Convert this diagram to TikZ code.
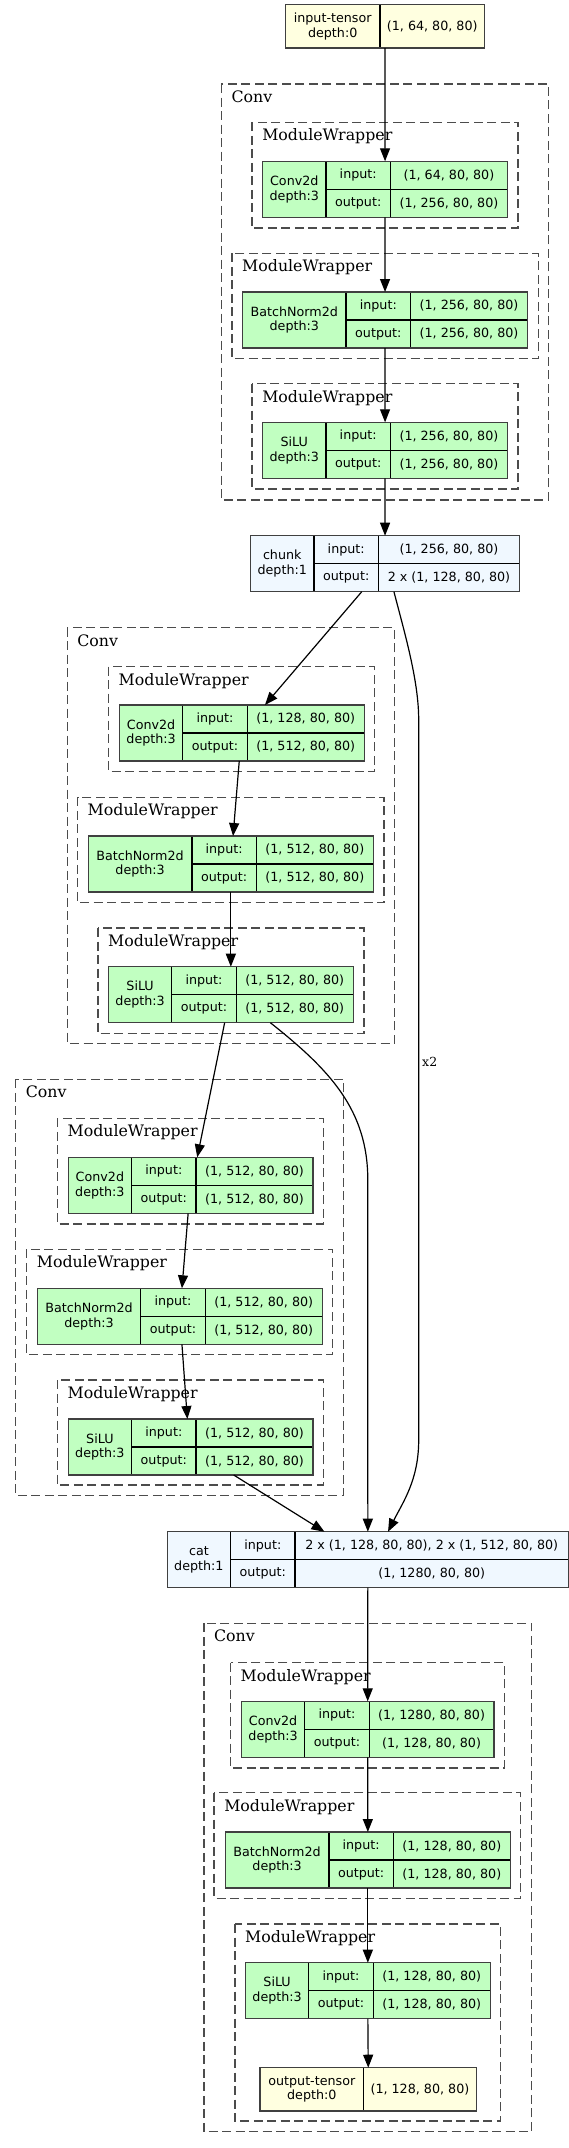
\documentclass[tikz,border=0pt]{standalone}
\usepackage{fontspec}
\setmainfont{DejaVu Serif}
\newfontfamily\boxfont{DejaVu Sans}
\usetikzlibrary{arrows.meta}

\definecolor{modgreen}{HTML}{C1FFC1}
\definecolor{funcblue}{HTML}{F0F8FF}
\definecolor{tensoryellow}{HTML}{FFFFE0}

% #1 name, #2 fill, #3 left, #4 top, #5 name width, #6 value width, #7 title, #8 input, #9 output
\newcommand{\layerbox}[9]{%
  \node[namecell, fill=#2, minimum width=#5, anchor=north west] (#1n) at (#3,#4) {#7};
  \node[iocell, fill=#2, anchor=north west] (#1i) at (#1n.north east) {input:};
  \node[iocell, fill=#2, anchor=north west] (#1o) at (#1i.south west) {output:};
  \node[valcell, fill=#2, minimum width=#6, anchor=north west] (#1vi) at (#1i.north east) {#8};
  \node[valcell, fill=#2, minimum width=#6, anchor=north west] (#1vo) at (#1vi.south west) {#9};
  \node[boxframe, minimum width=#5+64.6+#6, minimum height=56, anchor=north west] (#1) at (#3,#4) {};
}
% #1 name, #2 left, #3 top, #4 name width, #5 value width, #6 title, #7 shape
\newcommand{\tensorbox}[7]{%
  \node[tcell, minimum width=#4, anchor=north west] (#1n) at (#2,#3) {#6};
  \node[tcell, minimum width=#5, anchor=north west] (#1v) at (#1n.north east) {#7};
  \node[boxframe, minimum width=#4+#5, minimum height=43.3, anchor=north west] (#1) at (#2,#3) {};
}
% #1 name, #2 left, #3 top, #4 right, #5 bottom, #6 label
\newcommand{\wrapper}[6]{%
  \draw[wrapline] (#2,#3) rectangle (#4,#5);
  \node[wraplabel] (#1) at (#2+10,#3+18.5) {#6};
}

\begin{document}
\begin{tikzpicture}[x=1pt, y=-1pt,
    cell/.style={draw=black, line width=1.4pt, inner sep=0pt, outer sep=0pt,
      font=\boxfont\fontsize{12.7}{14.6}\selectfont},
    namecell/.style={cell, minimum height=56, align=center},
    iocell/.style={cell, minimum width=64.6, minimum height=28},
    valcell/.style={cell, minimum height=28},
    tcell/.style={cell, fill=tensoryellow, minimum height=43.3, align=center},
    boxframe/.style={draw=black!75, line width=1.3pt, inner sep=0pt, outer sep=0pt},
    wrapline/.style={draw=black!70, line width=1.3pt, dash pattern=on 9pt off 4.5pt},
    wraplabel/.style={anchor=base west, inner sep=0pt, font=\fontsize{15.8}{19}\selectfont},
    edgelabel/.style={anchor=base west, inner sep=0pt, font=\fontsize{12.5}{15}\selectfont},
    flow/.style={draw=black, line width=1.2pt, -{Triangle[length=13pt,width=10pt]}}]

    \fill[white] (0,0) rectangle (569,2148);
    \useasboundingbox (0,0) rectangle (569,2148);

    % First Conv
    \wrapper{conva}{221.4}{84}{548.8}{500}{Conv}
    \wrapper{mwa}{252.1}{122.3}{518.1}{228}{ModuleWrapper}
    \wrapper{mwb}{232}{253.3}{538.2}{358.3}{ModuleWrapper}
    \wrapper{mwc}{252.1}{383.7}{518.1}{489}{ModuleWrapper}

    % Second Conv
    \wrapper{convb}{67.2}{627.7}{394.6}{1043.3}{Conv}
    \wrapper{mwd}{108.5}{666.7}{374.5}{771.7}{ModuleWrapper}
    \wrapper{mwe}{77.5}{797.3}{384}{902.7}{ModuleWrapper}
    \wrapper{mwf}{97.9}{928}{363.9}{1033.3}{ModuleWrapper}

    % Third Conv
    \wrapper{convc}{15.7}{1079.3}{343.4}{1495.7}{Conv}
    \wrapper{mwg}{57.4}{1118.3}{323.3}{1224}{ModuleWrapper}
    \wrapper{mwh}{26.7}{1249.3}{332.8}{1354.7}{ModuleWrapper}
    \wrapper{mwi}{57.4}{1380}{323.3}{1485}{ModuleWrapper}

    % Fourth Conv
    \wrapper{convd}{203.9}{1623.3}{531.6}{2131.7}{Conv}
    \wrapper{mwj}{230.5}{1662.7}{504.6}{1768}{ModuleWrapper}
    \wrapper{mwk}{214.1}{1792.7}{520.6}{1898.3}{ModuleWrapper}
    \wrapper{mwl}{234.9}{1924}{500.5}{2121}{ModuleWrapper}

    % Tensors
    \tensorbox{intensor}{285.4}{4.7}{94.6}{104.5}{input-tensor\\depth:0}{(1, 64, 80, 80)}
    \tensorbox{outtensor}{260.1}{2067.7}{103.4}{112.9}{output-tensor\\depth:0}{(1, 128, 80, 80)}

    % Layers
    \layerbox{convaa}{modgreen}{262.7}{161.3}{63.2}{116.9}{Conv2d\\depth:3}{(1, 64, 80, 80)}{(1, 256, 80, 80)}
    \layerbox{bna}{modgreen}{242.6}{292}{103.4}{116.9}{BatchNorm2d\\depth:3}{(1, 256, 80, 80)}{(1, 256, 80, 80)}
    \layerbox{silua}{modgreen}{262.7}{422.3}{63.2}{116.9}{SiLU\\depth:3}{(1, 256, 80, 80)}{(1, 256, 80, 80)}
    \layerbox{chunk}{funcblue}{250.6}{535.7}{63.3}{141}{chunk\\depth:1}{(1, 256, 80, 80)}{2 x (1, 128, 80, 80)}

    \layerbox{convbb}{modgreen}{119.5}{705}{63.2}{116.9}{Conv2d\\depth:3}{(1, 128, 80, 80)}{(1, 512, 80, 80)}
    \layerbox{bnb}{modgreen}{88.4}{836}{103.4}{116.9}{BatchNorm2d\\depth:3}{(1, 512, 80, 80)}{(1, 512, 80, 80)}
    \layerbox{silub}{modgreen}{108.5}{966.7}{63.2}{116.9}{SiLU\\depth:3}{(1, 512, 80, 80)}{(1, 512, 80, 80)}

    \layerbox{convcc}{modgreen}{68.3}{1157.3}{63.2}{116.9}{Conv2d\\depth:3}{(1, 512, 80, 80)}{(1, 512, 80, 80)}
    \layerbox{bnc}{modgreen}{37.3}{1288.3}{103.4}{116.9}{BatchNorm2d\\depth:3}{(1, 512, 80, 80)}{(1, 512, 80, 80)}
    \layerbox{siluc}{modgreen}{68.3}{1419}{63.2}{116.9}{SiLU\\depth:3}{(1, 512, 80, 80)}{(1, 512, 80, 80)}

    \layerbox{cat}{funcblue}{167.3}{1531.7}{63.2}{273.3}{cat\\depth:1}{2 x (1, 128, 80, 80), 2 x (1, 512, 80, 80)}{(1, 1280, 80, 80)}

    \layerbox{convdd}{modgreen}{241.5}{1701.3}{63.2}{124.6}{Conv2d\\depth:3}{(1, 1280, 80, 80)}{(1, 128, 80, 80)}
    \layerbox{bnd}{modgreen}{225.4}{1832}{103.4}{116.9}{BatchNorm2d\\depth:3}{(1, 128, 80, 80)}{(1, 128, 80, 80)}
    \layerbox{silud}{modgreen}{245.5}{1962.7}{63.2}{116.9}{SiLU\\depth:3}{(1, 128, 80, 80)}{(1, 128, 80, 80)}

    % Edges
    \draw[flow] (intensor.south) -- (convaa.north);
    \draw[flow] (convaa.south) -- (bna.north);
    \draw[flow] (bna.south) -- (silua.north);
    \draw[flow] (silua.south) -- (chunk.north);
    \draw[flow] ([xshift=-23.3]chunk.south) -- ([xshift=23.1]convbb.north);
    \draw[flow] ([xshift=8.9]chunk.south) .. controls (404.3,632) and (418.7,680) .. (418.7,720)
        -- (418.7,1440) .. controls (418.7,1480) and (403,1502) .. ([xshift=20.2]cat.north);
    \node[edgelabel] (times) at (422,1066) {x2};
    \draw[flow] ([xshift=-2.6]convbb.south) -- ([xshift=2.2]bnb.north);
    \draw[flow] (bnb.south) -- (silub.north);
    \draw[flow] ([xshift=-6.2]silub.south) -- ([xshift=6.6]convcc.north);
    \draw[flow] ([xshift=39.5]silub.south) .. controls (330,1070) and (367.8,1110) .. (367.8,1180)
        -- (cat.north);
    \draw[flow] ([xshift=-2.5]convcc.south) -- ([xshift=2.2]bnc.north);
    \draw[flow] ([xshift=2.2]bnc.south) -- ([xshift=-3.3]siluc.north);
    \draw[flow] ([xshift=43.1]siluc.south) -- ([xshift=-43.4]cat.north);
    \draw[flow] (cat.south) -- (convdd.north);
    \draw[flow] (convdd.south) -- (bnd.north);
    \draw[flow] (bnd.south) -- (silud.north);
    \draw[flow] (silud.south) -- (outtensor.north);

\end{tikzpicture}
\end{document}
